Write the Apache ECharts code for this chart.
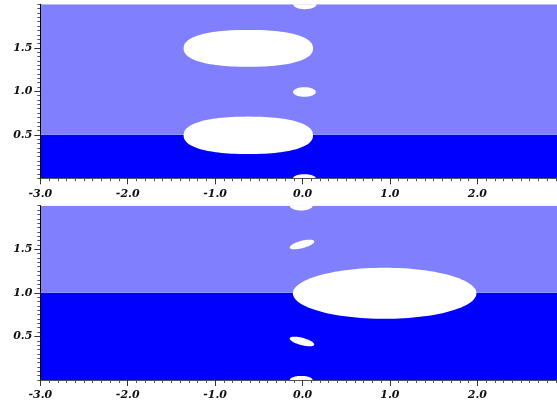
<!DOCTYPE html>
<html><head><meta charset="utf-8">
<script src="https://cdn.jsdelivr.net/npm/echarts@6/dist/echarts.min.js"></script>
<style>html,body{margin:0;padding:0;background:#fff}#c{width:557px;height:402px}</style>
</head><body><div id="c"></div>
<script>
// axis ranges / ticks
const xRange = [-3, 2.912];
const yRange = [0, 2];
const xInterval = 1;
const xMinorInterval = 0.1;
const yInterval = 0.5;
const yMinorInterval = 0.05;
// band boundaries (y) and colours: lower band, upper band
const topBandEdges = [0, 0.5, 2];
const bottomBandEdges = [0, 1.0, 2];
const bandColors = ['#0000ff', '#8080ff'];
// white holes: [cx, cy, rx, ry, superellipse exponent, tilt deg]
const topHoles = [
  [-0.62, 1.494, 0.74, 0.212, 2.3, 0],
  [-0.62, 0.494, 0.74, 0.215, 2.3, 0],
  [0.022, 0.992, 0.13, 0.055, 2, 0],
  [0.027, 2.0, 0.134, 0.056, 2, 0],
  [0.022, 0.0, 0.13, 0.047, 2, 0]
];
const bottomHoles = [
  [0.94, 0.995, 1.05, 0.293, 2, 0],
  [-0.006, 1.555, 0.145, 0.042, 2, 15],
  [-0.006, 0.442, 0.145, 0.042, 2, -15],
  [-0.015, 2.0, 0.13, 0.055, 2, 0],
  [-0.015, 0.0, 0.13, 0.047, 2, 0]
];

function bandData(edges) {
  const out = [];
  for (let i = 0; i < edges.length - 1; i++) out.push([xRange[0], xRange[1], edges[i], edges[i + 1], i]);
  return out;
}
function renderBand(params, api) {
  const p0 = api.coord([api.value(0), api.value(3)]);
  const p1 = api.coord([api.value(1), api.value(2)]);
  return {
    type: 'rect',
    shape: { x: p0[0], y: p0[1], width: p1[0] - p0[0], height: p1[1] - p0[1] },
    style: { fill: bandColors[api.value(4)] }
  };
}
function renderHole(params, api) {
  const cx = api.value(0), cy = api.value(1), rx = api.value(2), ry = api.value(3);
  const n = api.value(4), a = api.value(5) * Math.PI / 180;
  const pts = [];
  const N = 120;
  for (let k = 0; k < N; k++) {
    const t = 2 * Math.PI * k / N;
    const c = Math.cos(t), s = Math.sin(t);
    const ex = rx * Math.sign(c) * Math.pow(Math.abs(c), 2 / n);
    const ey = ry * Math.sign(s) * Math.pow(Math.abs(s), 2 / n);
    const x = cx + ex * Math.cos(a) - ey * Math.sin(a);
    const y = cy + ex * Math.sin(a) + ey * Math.cos(a);
    pts.push(api.coord([x, y]));
  }
  return { type: 'polygon', shape: { points: pts }, style: { fill: '#ffffff' } };
}

const labelFont = { fontFamily: 'DejaVu Serif', fontStyle: 'italic', fontWeight: 'bold', fontSize: 11, color: '#111' };
function xAx(gi) {
  return {
    type: 'value', gridIndex: gi, min: xRange[0], max: xRange[1], interval: xInterval, z: 10,
    axisLine: { show: true, onZero: false, lineStyle: { color: '#000', width: 1 } },
    axisTick: { show: true, length: 6, lineStyle: { color: '#333' } },
    splitLine: { show: false },
    axisLabel: Object.assign({ margin: 10, showMaxLabel: false, formatter: v => v.toFixed(1) }, labelFont)
  };
}
function xMinorAx(gi) {
  return {
    type: 'value', gridIndex: gi, position: 'bottom', min: xRange[0], max: xRange[1], interval: xMinorInterval, z: 9,
    axisLine: { show: false, onZero: false },
    axisTick: { show: true, length: 3, lineStyle: { color: '#555' } },
    splitLine: { show: false }, axisLabel: { show: false }
  };
}
function topAx(gi) {
  return {
    type: 'value', gridIndex: gi, position: 'top', min: xRange[0], max: xRange[1], z: 10,
    axisLine: { show: true, lineStyle: { color: '#555', width: 1 } },
    axisTick: { show: false }, axisLabel: { show: false }, splitLine: { show: false }
  };
}
function yAx(gi) {
  return {
    type: 'value', gridIndex: gi, min: yRange[0], max: yRange[1], interval: yInterval, z: 10,
    axisLine: { show: true, onZero: false, lineStyle: { color: '#000', width: 1 } },
    axisTick: { show: true, length: 6, lineStyle: { color: '#333' } },
    splitLine: { show: false },
    axisLabel: Object.assign({ margin: 8, showMinLabel: false, showMaxLabel: false, formatter: v => v.toFixed(1) }, labelFont)
  };
}
function yMinorAx(gi) {
  return {
    type: 'value', gridIndex: gi, position: 'left', min: yRange[0], max: yRange[1], interval: yMinorInterval, z: 9,
    axisLine: { show: false, onZero: false },
    axisTick: { show: true, length: 3, lineStyle: { color: '#555' } },
    splitLine: { show: false }, axisLabel: { show: false }
  };
}

const chart = echarts.init(document.getElementById('c'), null, { renderer: 'canvas' });
chart.setOption({
  animation: false,
  grid: [
    { left: 40.3, top: 4.3, right: 0, height: 174, outerBoundsMode: 'none' },
    { left: 40.3, top: 205.7, right: 0, height: 174.3, outerBoundsMode: 'none' }
  ],
  xAxis: [xAx(0), xAx(1), topAx(0), topAx(1), xMinorAx(0), xMinorAx(1)],
  yAxis: [yAx(0), yAx(1), yMinorAx(0), yMinorAx(1)],
  series: [
    { type: 'custom', xAxisIndex: 0, yAxisIndex: 0, clip: true, z: 2, renderItem: renderBand, data: bandData(topBandEdges) },
    { type: 'custom', xAxisIndex: 0, yAxisIndex: 0, clip: true, z: 3, renderItem: renderHole, data: topHoles },
    { type: 'custom', xAxisIndex: 1, yAxisIndex: 1, clip: true, z: 2, renderItem: renderBand, data: bandData(bottomBandEdges) },
    { type: 'custom', xAxisIndex: 1, yAxisIndex: 1, clip: true, z: 3, renderItem: renderHole, data: bottomHoles }
  ]
});
</script></body></html>
